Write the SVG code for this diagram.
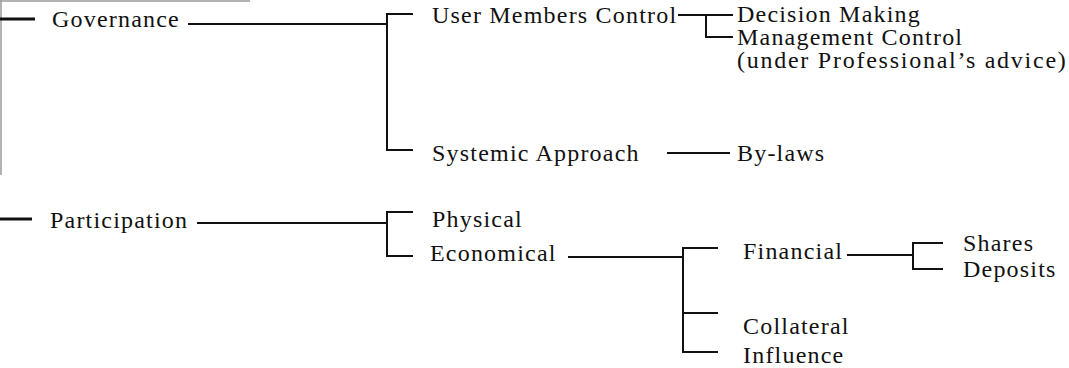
<svg xmlns="http://www.w3.org/2000/svg" width="1069" height="368" viewBox="0 0 1069 368">
  <style>
    text { font-family: "Liberation Serif", "Times New Roman", serif; font-size: 24px; letter-spacing: 1.2px; fill: #111; }
    .link { fill: none; stroke: #111; stroke-width: 2; }
    .stub { fill: none; stroke: #111; stroke-width: 3; }
    .frame { fill: none; stroke: #9a9a9a; stroke-width: 1.5; }
  </style>
  <rect width="1069" height="368" fill="#fff"/>

  <!-- page frame remnants -->
  <g id="frame">
    <path class="frame" d="M0 1 H250"/>
    <path class="frame" d="M1 0 V175"/>
  </g>

  <g id="connectors">
    <path class="stub" d="M0 19 H35"/>
    <path class="stub" d="M0 219 H32"/>
    <!-- Governance branch -->
    <path class="link" d="M188 24 H387"/>
    <path class="link" d="M413 14 H387 V150 H413"/>
    <path class="link" d="M678 15 H733 M706 15 V37 H733"/>
    <path class="link" d="M667 153 H730"/>
    <!-- Participation branch -->
    <path class="link" d="M197 223 H387"/>
    <path class="link" d="M413 212 H387 V256 H413"/>
    <path class="link" d="M568 257 H683"/>
    <path class="link" d="M718 248 H683 V352 H718 M683 313 H718"/>
    <path class="link" d="M847 255 H913"/>
    <path class="link" d="M943 243 H913 V269 H943"/>
  </g>

  <g id="governance"><text x="52" y="27">Governance</text></g>
  <g id="user-members-control"><text x="432" y="23">User Members Control</text></g>
  <g id="decision-making"><text x="737" y="22">Decision Making</text></g>
  <g id="management-control">
    <text x="737" y="45">Management Control</text>
    <text x="737" y="68" textLength="330">(under Professional’s advice)</text>
  </g>
  <g id="systemic-approach"><text x="432" y="161">Systemic Approach</text></g>
  <g id="by-laws"><text x="737" y="161">By-laws</text></g>
  <g id="participation"><text x="50" y="228">Participation</text></g>
  <g id="physical"><text x="432" y="227">Physical</text></g>
  <g id="economical"><text x="430" y="261">Economical</text></g>
  <g id="financial"><text x="743" y="259">Financial</text></g>
  <g id="shares"><text x="963" y="251">Shares</text></g>
  <g id="deposits"><text x="963" y="277">Deposits</text></g>
  <g id="collateral"><text x="743" y="334">Collateral</text></g>
  <g id="influence"><text x="743" y="363">Influence</text></g>
</svg>
